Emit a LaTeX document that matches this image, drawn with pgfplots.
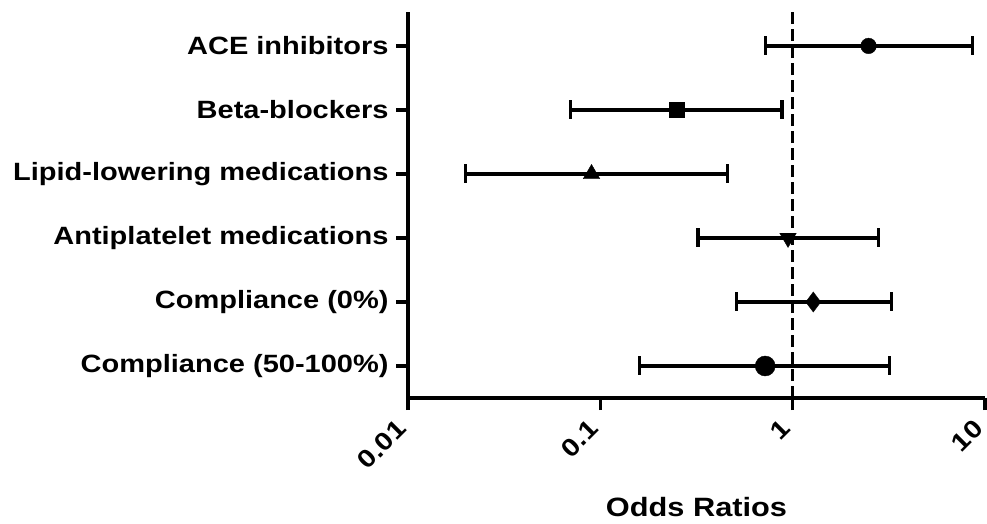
\documentclass[border=0pt]{standalone}
\usepackage{fontspec}
\setmainfont{Liberation Sans}[FakeStretch=1.16]
\usepackage{pgfplots}
\pgfplotsset{compat=1.18}
\begin{document}
\begin{tikzpicture}
\begin{axis}[
  scale only axis, width=577pt, height=386pt,
  xmode=log, xmin=0.01, xmax=10, ymin=0.5, ymax=6.53,
  axis x line*=bottom, axis y line*=left,
  axis line style={line width=3.2pt, -},
  xtick={0.01,0.1,1,10}, xticklabels={0.01,0.1,1,10},
  xminorticks=false, yminorticks=false,
  ytick={1,2,3,4,5,6},
  yticklabels={Compliance (50-100\%),Compliance (0\%),Antiplatelet medications,Lipid-lowering medications,Beta-blockers,ACE inhibitors},
  tick align=outside, major tick length=12pt,
  every tick/.style={line width=3.2pt, black},
  tick label style={font=\fontsize{25}{30}\selectfont\bfseries},
  yticklabel style={xshift=-4pt},
  xticklabel style={xshift=-4pt, yshift=-12pt, rotate=45, anchor=east},
  xlabel={Odds Ratios},
  xlabel style={font=\fontsize{26.5}{32}\selectfont\bfseries, at={(axis description cs:0.5,0)}, anchor=base, yshift=-118pt},
  clip=false,
]
\coordinate (bl) at (rel axis cs:0,0);
% reference line
\addplot[line width=3.2pt, dash pattern=on 12pt off 5pt] coordinates {(1,0.5) (1,6.53)};
% confidence intervals
\addplot[line width=3.2pt, mark=|, mark size=9.5pt] coordinates {(0.72,6) (8.6,6)};
\addplot[line width=3.2pt, mark=|, mark size=9.5pt] coordinates {(0.070,5) (0.88,5)};
\addplot[line width=3.2pt, mark=|, mark size=9.5pt] coordinates {(0.020,4) (0.457,4)};
\addplot[line width=3.2pt, mark=|, mark size=9.5pt] coordinates {(0.322,3) (2.80,3)};
\addplot[line width=3.2pt, mark=|, mark size=9.5pt] coordinates {(0.509,2) (3.28,2)};
\addplot[line width=3.2pt, mark=|, mark size=9.5pt] coordinates {(0.160,1) (3.18,1)};
% point estimates
\addplot[only marks, mark=*, mark size=7.8pt, fill=black] coordinates {(2.48,6)};
\addplot[only marks, mark=square*, mark size=7.5pt, fill=black] coordinates {(0.249,5)};
\addplot[only marks, mark=triangle*, mark size=9.5pt, fill=black] coordinates {(0.090,4)};
\addplot[only marks, mark=triangle*, mark size=9.5pt, fill=black, mark options={rotate=180}] coordinates {(0.946,3)};
\addplot[only marks, mark=diamond*, mark size=10pt, fill=black] coordinates {(1.28,2)};
\addplot[only marks, mark=*, mark size=10pt, fill=black] coordinates {(0.72,1)};
\end{axis}
\pgfresetboundingbox
\path (bl) ++(-408pt,-125pt) rectangle ++(987pt,523pt);
\end{tikzpicture}
\end{document}
